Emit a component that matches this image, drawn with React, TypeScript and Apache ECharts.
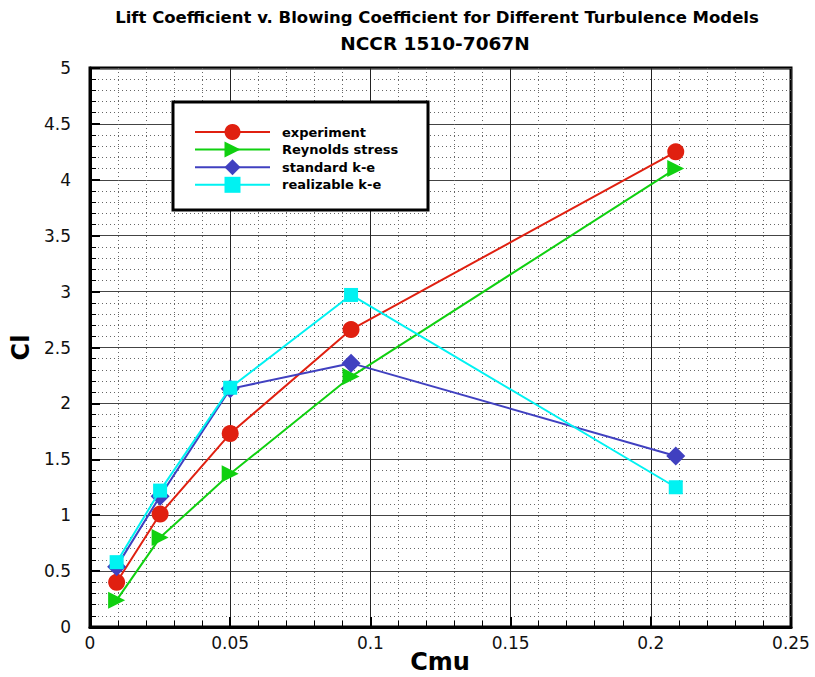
import React, { useEffect, useRef } from "react";
import * as echarts from "echarts";

const cmu = [0.0095, 0.025, 0.05, 0.0931, 0.2089];
const experiment = [0.4, 1.01, 1.73, 2.66, 4.25];
const reynoldsStress = [0.24, 0.8, 1.37, 2.24, 4.1];
const standardKE = [0.54, 1.17, 2.13, 2.36, 1.53];
const realizableKE = [0.58, 1.22, 2.14, 2.97, 1.25];
const seriesNames = ["experiment", "Reynolds stress", "standard k-e", "realizable k-e"];
const xTickLabels = ["0", "0.05", "0.1", "0.15", "0.2", "0.25"];
const yTickLabels = ["0", "0.5", "1", "1.5", "2", "2.5", "3", "3.5", "4", "4.5", "5"];
const xAxisTitle = "Cmu";

const FONT = "DejaVu Sans";

export default function App() {
  const ref = useRef<HTMLDivElement>(null);
  useEffect(() => {
    document.body.style.margin = "0";
    const chart = echarts.init(ref.current!, null, { renderer: "svg" });
    const mk = (vals: number[]) => cmu.map((x, i) => [x, vals[i]]);
    const styles = [
      { color: "#e02010", symbol: "circle", symbolSize: 17, symbolRotate: 0, data: experiment },
      { color: "#10d010", symbol: "triangle", symbolSize: 17, symbolRotate: -90, data: reynoldsStress },
      { color: "#4040c0", symbol: "diamond", symbolSize: 19, symbolRotate: 0, data: standardKE },
      { color: "#00f2f2", symbol: "rect", symbolSize: 14, symbolRotate: 0, data: realizableKE },
    ];
    chart.setOption({
      animation: false,
      backgroundColor: "#fff",
      title: [
        {
          text: "Lift Coefficient v. Blowing Coefficient for Different Turbulence Models",
          left: 437,
          top: 9,
          padding: 0,
          textAlign: "center",
          textStyle: { fontFamily: FONT, fontWeight: "bold", fontSize: 16.5, color: "#000" },
        },
        {
          text: "NCCR 1510-7067N",
          left: 435,
          top: 34,
          padding: 0,
          textAlign: "center",
          textStyle: { fontFamily: FONT, fontWeight: "bold", fontSize: 18.5, color: "#000" },
        },
      ],
      grid: {
        left: 90,
        right: 24,
        top: 68,
        bottom: 50,
        show: true,
        borderColor: "#000",
        borderWidth: 3,
        backgroundColor: "transparent",
        containLabel: false,
        outerBoundsMode: "none",
      },
      legend: {
        orient: "vertical",
        left: 194,
        top: 124,
        padding: 0,
        itemWidth: 75,
        itemHeight: 20,
        itemGap: 1.6,
        data: seriesNames,
        textStyle: { fontFamily: FONT, fontWeight: "bold", fontSize: 13, color: "#000", padding: [0, 0, 0, 7] },
        z: 10,
      },
      graphic: [
        {
          type: "rect",
          z: 9,
          shape: { x: 173, y: 102, width: 255, height: 108 },
          style: { fill: "#fff", stroke: "#000", lineWidth: 3 },
        },
        {
          type: "text",
          z: 9,
          x: 440,
          y: 662,
          style: {
            text: xAxisTitle,
            fill: "#000",
            font: `bold 24px "${FONT}"`,
            align: "center",
            verticalAlign: "middle",
          },
        },
      ],
      xAxis: {
        type: "value",
        min: 0,
        max: 0.25,
        interval: 0.05,
        axisLine: { show: true, onZero: false, lineStyle: { color: "#000", width: 3 } },
        axisTick: { show: true, inside: true, length: 10, lineStyle: { color: "#000", width: 2 } },
        minorTick: { show: true, splitNumber: 5, length: 6, lineStyle: { color: "#000", width: 1 } },
        axisLabel: {
          fontFamily: FONT,
          fontSize: 17,
          color: "#111",
          margin: 7,
          formatter: (v: number) => xTickLabels[Math.round(v / 0.05)] ?? "",
        },
        splitLine: { show: true, lineStyle: { color: "#222", width: 1 } },
        minorSplitLine: { show: true, lineStyle: { color: "#666", width: 1, type: [1, 3] } },
      },
      yAxis: {
        type: "value",
        min: 0,
        max: 5,
        interval: 0.5,
        name: "Cl",
        nameLocation: "middle",
        nameGap: 55,
        nameRotate: 90,
        nameTextStyle: { fontFamily: FONT, fontWeight: "bold", fontSize: 24, color: "#000" },
        axisLine: { show: true, onZero: false, lineStyle: { color: "#000", width: 3 } },
        axisTick: { show: true, inside: true, length: 10, lineStyle: { color: "#000", width: 2 } },
        minorTick: { show: true, splitNumber: 5, length: 6, lineStyle: { color: "#000", width: 1 } },
        axisLabel: {
          fontFamily: FONT,
          fontSize: 17,
          color: "#111",
          margin: 19,
          formatter: (v: number) => yTickLabels[Math.round(v / 0.5)] ?? "",
        },
        splitLine: { show: true, lineStyle: { color: "#444", width: 1 } },
        minorSplitLine: { show: true, lineStyle: { color: "#666", width: 1, type: [1, 3] } },
      },
      series: styles.map((s, i) => ({
        name: seriesNames[i],
        type: "line",
        data: mk(s.data),
        symbol: s.symbol,
        symbolSize: s.symbolSize,
        symbolRotate: s.symbolRotate,
        showAllSymbol: true,
        lineStyle: { color: s.color, width: 2 },
        itemStyle: { color: s.color, borderWidth: 0 },
        emphasis: { disabled: true },
        z: 2 + i,
      })),
    });
    return () => chart.dispose();
  }, []);
  return <div ref={ref} style={{ width: 815, height: 677 }} />;
}
